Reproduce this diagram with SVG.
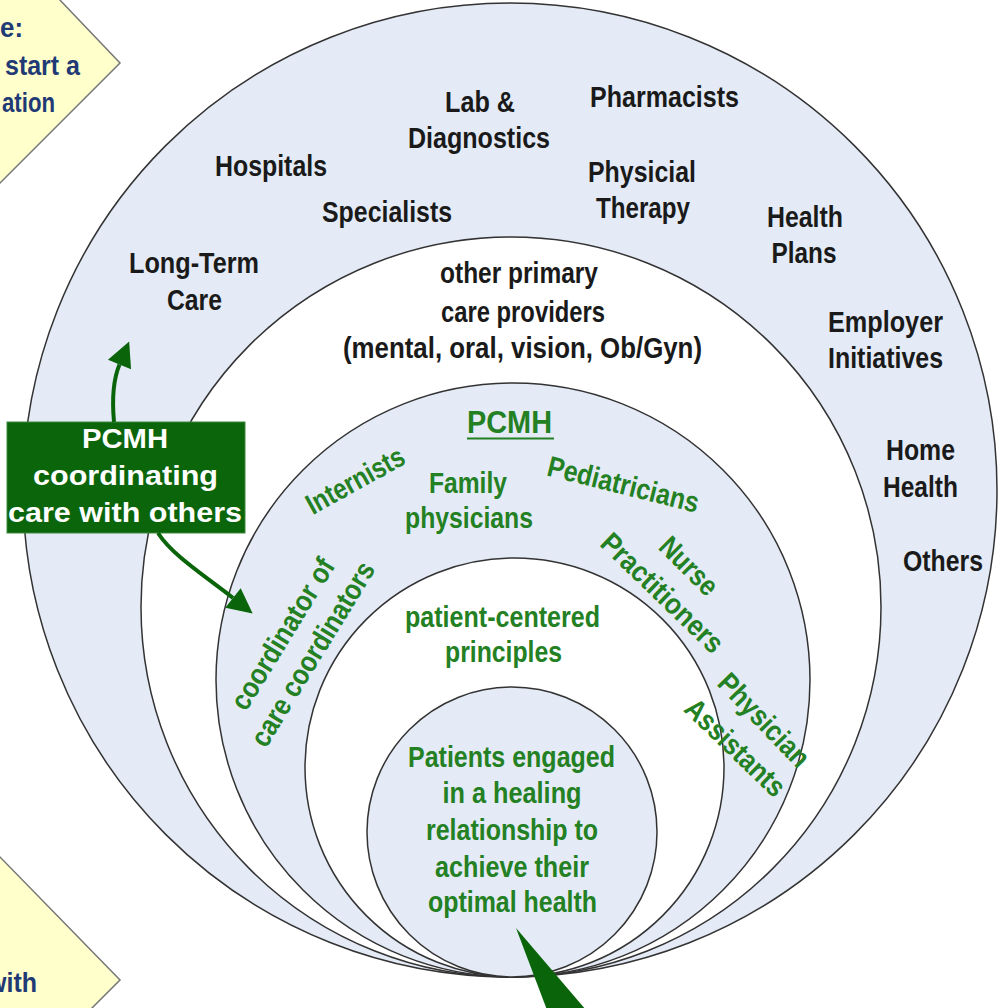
<svg xmlns="http://www.w3.org/2000/svg" width="1000" height="1008" viewBox="0 0 1000 1008">
<style>
.ring{stroke:#333;stroke-width:1.5}
.blue{fill:#E4EBF6}
.white{fill:#FFFFFF}
text{font-family:"Liberation Sans",Arial,sans-serif;font-weight:bold;text-anchor:middle}
.k{font-size:29px;fill:#1a1a1a}
.g{font-size:29px;fill:#238023}
.w{font-size:27px;fill:#FFFFFF}
.n{font-size:28px;fill:#1F3A75;text-anchor:start}
.diamond{fill:#FFFFCC;stroke:#777;stroke-width:1.5}
.conn{fill:none;stroke:#0A640A;stroke-width:4}
</style>
<defs>
<marker id="ah" viewBox="0 0 10 10" refX="0" refY="5" markerUnits="userSpaceOnUse" markerWidth="34" markerHeight="25" orient="auto">
<path d="M0,0 L10,5 L0,10 z" fill="#0A640A"/>
</marker>
</defs>
<rect width="1000" height="1008" fill="#FFFFFF"/>

<g id="note-top">
<polygon class="diamond" points="58,-2 120,63 -2,185 -2,-2"/>
<text class="n" x="0" y="37" textLength="23" lengthAdjust="spacingAndGlyphs">e:</text>
<text class="n" x="5" y="75" textLength="75" lengthAdjust="spacingAndGlyphs">start a</text>
<text class="n" x="2" y="112" textLength="53" lengthAdjust="spacingAndGlyphs">ation</text>
</g>

<g id="note-bottom">
<polygon class="diamond" points="-2,855 120,980 90,1010 -2,1010"/>
<text class="n" x="37" y="992" style="text-anchor:end" textLength="50" lengthAdjust="spacingAndGlyphs">with</text>
</g>

<g id="rings">
<circle id="ring-others-shape" class="ring blue" cx="510" cy="490" r="487"/>
<circle id="ring-primary-shape" class="ring white" cx="511" cy="607" r="370"/>
<circle id="ring-pcmh-shape" class="ring blue" cx="513" cy="680" r="297"/>
<circle id="ring-principles-shape" class="ring white" cx="514.5" cy="767.5" r="209.5"/>
<circle id="core-patients-shape" class="ring blue" cx="512" cy="832" r="145"/>
</g>

<g id="ring-others">
<text class="k" x="271" y="176" textLength="112" lengthAdjust="spacingAndGlyphs">Hospitals</text>
<text class="k" x="480" y="112" textLength="70" lengthAdjust="spacingAndGlyphs">Lab &amp;</text>
<text class="k" x="479" y="148" textLength="142" lengthAdjust="spacingAndGlyphs">Diagnostics</text>
<text class="k" x="664.5" y="107" textLength="149" lengthAdjust="spacingAndGlyphs">Pharmacists</text>
<text class="k" x="642" y="182" textLength="108" lengthAdjust="spacingAndGlyphs">Physicial</text>
<text class="k" x="643" y="218" textLength="94" lengthAdjust="spacingAndGlyphs">Therapy</text>
<text class="k" x="387" y="222" textLength="130" lengthAdjust="spacingAndGlyphs">Specialists</text>
<text class="k" x="194" y="273" textLength="130" lengthAdjust="spacingAndGlyphs">Long-Term</text>
<text class="k" x="194.5" y="310" textLength="55" lengthAdjust="spacingAndGlyphs">Care</text>
<text class="k" x="805" y="227" textLength="76" lengthAdjust="spacingAndGlyphs">Health</text>
<text class="k" x="804" y="263" textLength="65" lengthAdjust="spacingAndGlyphs">Plans</text>
<text class="k" x="885.5" y="332" textLength="115" lengthAdjust="spacingAndGlyphs">Employer</text>
<text class="k" x="885.5" y="368" textLength="115" lengthAdjust="spacingAndGlyphs">Initiatives</text>
<text class="k" x="920.5" y="460" textLength="69" lengthAdjust="spacingAndGlyphs">Home</text>
<text class="k" x="920.5" y="497" textLength="75" lengthAdjust="spacingAndGlyphs">Health</text>
<text class="k" x="943" y="571" textLength="80" lengthAdjust="spacingAndGlyphs">Others</text>
</g>

<g id="ring-primary">
<text class="k" x="519" y="283" textLength="158" lengthAdjust="spacingAndGlyphs">other primary</text>
<text class="k" x="523" y="322" textLength="164" lengthAdjust="spacingAndGlyphs">care providers</text>
<text class="k" x="522.5" y="358" textLength="359" lengthAdjust="spacingAndGlyphs">(mental, oral, vision, Ob/Gyn)</text>
</g>

<g id="ring-pcmh">
<text class="g" x="509.5" y="433" style="font-size:32px" textLength="85" lengthAdjust="spacingAndGlyphs">PCMH</text>
<line x1="467" y1="438.5" x2="554" y2="438.5" stroke="#238023" stroke-width="2.2"/>
<text class="g" transform="translate(360,489) rotate(-29)" x="0" y="0" textLength="108" lengthAdjust="spacingAndGlyphs">Internists</text>
<text class="g" x="468" y="493" textLength="78" lengthAdjust="spacingAndGlyphs">Family</text>
<text class="g" x="469" y="528" textLength="128" lengthAdjust="spacingAndGlyphs">physicians</text>
<text class="g" transform="translate(621,494) rotate(14)" x="0" y="0" textLength="155" lengthAdjust="spacingAndGlyphs">Pediatricians</text>
<text class="g" transform="translate(682,573) rotate(45)" x="0" y="0" textLength="70" lengthAdjust="spacingAndGlyphs">Nurse</text>
<text class="g" transform="translate(655.5,600) rotate(44)" x="0" y="0" textLength="158" lengthAdjust="spacingAndGlyphs">Practitioners</text>
<text class="g" transform="translate(757,727) rotate(46)" x="0" y="0" textLength="118" lengthAdjust="spacingAndGlyphs">Physician</text>
<text class="g" transform="translate(728.5,754.5) rotate(44)" x="0" y="0" textLength="127" lengthAdjust="spacingAndGlyphs">Assistants</text>
<text class="g" transform="translate(291,639) rotate(-58.5)" x="0" y="0" textLength="172" lengthAdjust="spacingAndGlyphs">coordinator of</text>
<text class="g" transform="translate(321,659) rotate(-58.5)" x="0" y="0" textLength="211" lengthAdjust="spacingAndGlyphs">care coordinators</text>
</g>

<g id="ring-principles">
<text class="g" x="502.5" y="627" textLength="195" lengthAdjust="spacingAndGlyphs">patient-centered</text>
<text class="g" x="503.5" y="662" textLength="117" lengthAdjust="spacingAndGlyphs">principles</text>
</g>

<g id="core-patients">
<text class="g" x="511.5" y="767" textLength="207" lengthAdjust="spacingAndGlyphs">Patients engaged</text>
<text class="g" x="512" y="803" textLength="139" lengthAdjust="spacingAndGlyphs">in a healing</text>
<text class="g" x="512" y="840" textLength="172" lengthAdjust="spacingAndGlyphs">relationship to</text>
<text class="g" x="512" y="877" textLength="154" lengthAdjust="spacingAndGlyphs">achieve their</text>
<text class="g" x="512.5" y="912" textLength="169" lengthAdjust="spacingAndGlyphs">optimal health</text>
</g>

<g id="pcmh-box">
<rect x="7" y="422" width="238" height="111" fill="#0B650B" stroke="#3C8A3C" stroke-width="1"/>
<text class="w" x="125" y="448" textLength="86" lengthAdjust="spacingAndGlyphs">PCMH</text>
<text class="w" x="125.5" y="485" textLength="185" lengthAdjust="spacingAndGlyphs">coordinating</text>
<text class="w" x="125" y="522" textLength="234" lengthAdjust="spacingAndGlyphs">care with others</text>
</g>

<g id="connectors">
<path class="conn" d="M114,422 C112,400 113,380 119.5,364.5" marker-end="url(#ah)"/>
<path class="conn" d="M158,533 C172,555 205,576 233,598" marker-end="url(#ah)"/>
<polygon points="516,928 586,1010 547,1010" fill="#0A640A"/>
</g>
</svg>
